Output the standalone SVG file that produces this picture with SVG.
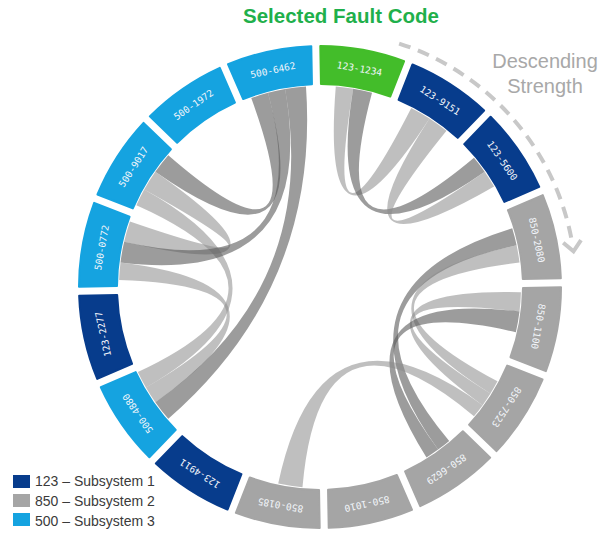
<svg xmlns="http://www.w3.org/2000/svg" xmlns:xlink="http://www.w3.org/1999/xlink" width="608" height="534" viewBox="0 0 608 534">
  <style>
    .seg { stroke-width: 2; stroke-linejoin: round; }
    .s123 { fill: #073C8C; stroke: #073C8C; }
    .s850 { fill: #A5A5A5; stroke: #A5A5A5; }
    .s500 { fill: #15A3E0; stroke: #15A3E0; }
    .sel { fill: #43BD2A; stroke: #43BD2A; }
    .lbl { font-family: "DejaVu Sans Mono", "Liberation Mono", monospace; font-size: 9.5px; fill: #F2F5FA; text-anchor: middle; dominant-baseline: central; }
    .rb { fill: #8A8A8A; fill-opacity: 0.55; }
    .rbd { fill: #5A5A5A; fill-opacity: 0.6; }
    .title { font-family: "Liberation Sans", Arial, sans-serif; font-weight: bold; font-size: 20.5px; fill: #1FB04B; text-anchor: middle; }
    .note { font-family: "Liberation Sans", Arial, sans-serif; font-size: 20px; fill: #A8A8A8; text-anchor: middle; }
    .leg { font-family: "Liberation Sans", Arial, sans-serif; font-size: 14px; fill: #3A3A3A; }
  </style>
  <defs>
    <!-- one ring segment, centred on the upward direction, origin at the ring centre -->
    <path id="seg" d="M-42.59,-237.21 A241,241 0 0 1 42.59,-237.21 L35.18,-199.93 A203,203 0 0 0 -35.18,-199.93 Z"/>
  </defs>

  <rect width="608" height="534" fill="#FFFFFF"/>

  <text class="title" x="341" y="23">Selected Fault Code</text>
  <text class="note" x="545" y="68">Descending</text>
  <text class="note" x="545" y="93">Strength</text>

  <!-- direction hint: dashed arc with open arrowhead -->
  <path d="M399.11,43.53 A256,256 0 0 1 572.11,242.55" fill="none" stroke="#C8C8C8" stroke-width="4" stroke-dasharray="12 8"/>
  <polyline points="563.2,242.8 573.5,251.4 581,240.2" fill="none" stroke="#C8C8C8" stroke-width="4"/>

  <!-- ribbons -->
  <g id="connectors">
    <!-- subsystem 1 -->
    <path class="rb" d="M335.77,86.62 A201,201 0 0 1 353.18,88.76 Q320,287 411.25,107.91 A201,201 0 0 1 429.47,118.43 Q320,287 335.77,86.62Z"/>
    <path class="rbd" d="M353.18,88.76 A201,201 0 0 1 372.02,92.85 Q320,287 473.97,157.80 A201,201 0 0 1 484.65,171.71 Q320,287 353.18,88.76Z"/>
    <path class="rb" d="M429.47,118.43 A201,201 0 0 1 446.49,130.79 Q320,287 484.65,171.71 A201,201 0 0 1 494.07,186.50 Q320,287 429.47,118.43Z"/>
    <!-- subsystem 3 -->
    <path class="rbd" d="M155.35,171.71 A201,201 0 0 1 168.30,155.13 Q320,287 251.25,98.12 A201,201 0 0 1 267.98,92.85 Q320,287 155.35,171.71Z"/>
    <path class="rb" d="M124.15,241.79 A201,201 0 0 1 129.95,221.56 Q320,287 144.20,189.55 A201,201 0 0 1 155.35,171.71 Q320,287 124.15,241.79Z"/>
    <path class="rb" d="M145.93,387.50 A201,201 0 0 1 137.83,371.95 Q320,287 136.38,205.25 A201,201 0 0 1 144.20,189.55 Q320,287 145.93,387.50Z"/>
    <path class="rbd" d="M120.50,262.50 A201,201 0 0 1 124.15,241.79 Q320,287 267.98,92.85 A201,201 0 0 1 285.10,89.05 Q320,287 120.50,262.50Z"/>
    <path class="rb" d="M155.35,402.29 A201,201 0 0 1 145.93,387.50 Q320,287 119.12,279.99 A201,201 0 0 1 120.50,262.50 Q320,287 155.35,402.29Z"/>
    <path class="rbd" d="M168.30,418.87 A201,201 0 0 1 155.35,402.29 Q320,287 285.10,89.05 A201,201 0 0 1 305.98,86.49 Q320,287 168.30,418.87Z"/>
    <!-- subsystem 2 -->
    <path class="rbd" d="M512.22,228.23 A201,201 0 0 1 516.61,245.21 Q320,287 449.20,440.97 A201,201 0 0 1 438.15,449.61 Q320,287 512.22,228.23Z"/>
    <path class="rb" d="M516.61,245.21 A201,201 0 0 1 519.50,262.50 Q320,287 497.47,381.36 A201,201 0 0 1 490.46,393.51 Q320,287 516.61,245.21Z"/>
    <path class="rb" d="M520.93,292.26 A201,201 0 0 1 519.50,311.50 Q320,287 490.46,393.51 A201,201 0 0 1 482.61,405.15 Q320,287 520.93,292.26Z"/>
    <path class="rbd" d="M519.50,311.50 A201,201 0 0 1 515.85,332.21 Q320,287 438.15,449.61 A201,201 0 0 1 426.51,457.46 Q320,287 519.50,311.50Z"/>
    <path class="rb" d="M482.61,405.15 A201,201 0 0 1 473.97,416.20 Q320,287 302.48,487.23 A201,201 0 0 1 278.21,483.61 Q320,287 482.61,405.15Z"/>
  </g>

  <!-- ring segments -->
  <g id="n-123-1234"><use xlink:href="#seg" class="seg sel" transform="translate(320 287) rotate(10.25)"/><text class="lbl" transform="translate(320 287) rotate(10.25) translate(0 -222)">123-1234</text></g>
  <g id="n-123-9151"><use xlink:href="#seg" class="seg s123" transform="translate(320 287) rotate(32.75)"/><text class="lbl" transform="translate(320 287) rotate(32.75) translate(0 -222)">123-9151</text></g>
  <g id="n-123-5600"><use xlink:href="#seg" class="seg s123" transform="translate(320 287) rotate(55.25)"/><text class="lbl" transform="translate(320 287) rotate(55.25) translate(0 -222)">123-5600</text></g>
  <g id="n-850-2080"><use xlink:href="#seg" class="seg s850" transform="translate(320 287) rotate(77.75)"/><text class="lbl" transform="translate(320 287) rotate(77.75) translate(0 -222)">850-2080</text></g>
  <g id="n-850-1100"><use xlink:href="#seg" class="seg s850" transform="translate(320 287) rotate(100.25)"/><text class="lbl" transform="translate(320 287) rotate(100.25) translate(0 -222)">850-1100</text></g>
  <g id="n-850-7523"><use xlink:href="#seg" class="seg s850" transform="translate(320 287) rotate(122.75)"/><text class="lbl" transform="translate(320 287) rotate(122.75) translate(0 -222)">850-7523</text></g>
  <g id="n-850-6629"><use xlink:href="#seg" class="seg s850" transform="translate(320 287) rotate(145.25)"/><text class="lbl" transform="translate(320 287) rotate(145.25) translate(0 -222)">850-6629</text></g>
  <g id="n-850-1010"><use xlink:href="#seg" class="seg s850" transform="translate(320 287) rotate(167.75)"/><text class="lbl" transform="translate(320 287) rotate(167.75) translate(0 -222)">850-1010</text></g>
  <g id="n-850-0185"><use xlink:href="#seg" class="seg s850" transform="translate(320 287) rotate(190.25)"/><text class="lbl" transform="translate(320 287) rotate(190.25) translate(0 -222)">850-0185</text></g>
  <g id="n-123-4911"><use xlink:href="#seg" class="seg s123" transform="translate(320 287) rotate(212.75)"/><text class="lbl" transform="translate(320 287) rotate(212.75) translate(0 -222)">123-4911</text></g>
  <g id="n-500-4880"><use xlink:href="#seg" class="seg s500" transform="translate(320 287) rotate(235.25)"/><text class="lbl" transform="translate(320 287) rotate(235.25) translate(0 -222)">500-4880</text></g>
  <g id="n-123-2277"><use xlink:href="#seg" class="seg s123" transform="translate(320 287) rotate(257.75)"/><text class="lbl" transform="translate(320 287) rotate(257.75) translate(0 -222)">123-2277</text></g>
  <g id="n-500-0772"><use xlink:href="#seg" class="seg s500" transform="translate(320 287) rotate(280.25)"/><text class="lbl" transform="translate(320 287) rotate(280.25) translate(0 -222)">500-0772</text></g>
  <g id="n-500-9017"><use xlink:href="#seg" class="seg s500" transform="translate(320 287) rotate(302.75)"/><text class="lbl" transform="translate(320 287) rotate(302.75) translate(0 -222)">500-9017</text></g>
  <g id="n-500-1972"><use xlink:href="#seg" class="seg s500" transform="translate(320 287) rotate(325.25)"/><text class="lbl" transform="translate(320 287) rotate(325.25) translate(0 -222)">500-1972</text></g>
  <g id="n-500-6462"><use xlink:href="#seg" class="seg s500" transform="translate(320 287) rotate(347.75)"/><text class="lbl" transform="translate(320 287) rotate(347.75) translate(0 -222)">500-6462</text></g>

  <!-- legend -->
  <g id="legend">
    <rect x="13" y="475" width="17" height="13" fill="#073C8C"/>
    <text class="leg" x="35" y="486">123 – Subsystem 1</text>
    <rect x="13" y="494" width="17" height="13" fill="#A5A5A5"/>
    <text class="leg" x="35" y="506">850 – Subsystem 2</text>
    <rect x="13" y="513" width="17" height="13" fill="#15A3E0"/>
    <text class="leg" x="35" y="526">500 – Subsystem 3</text>
  </g>
</svg>
